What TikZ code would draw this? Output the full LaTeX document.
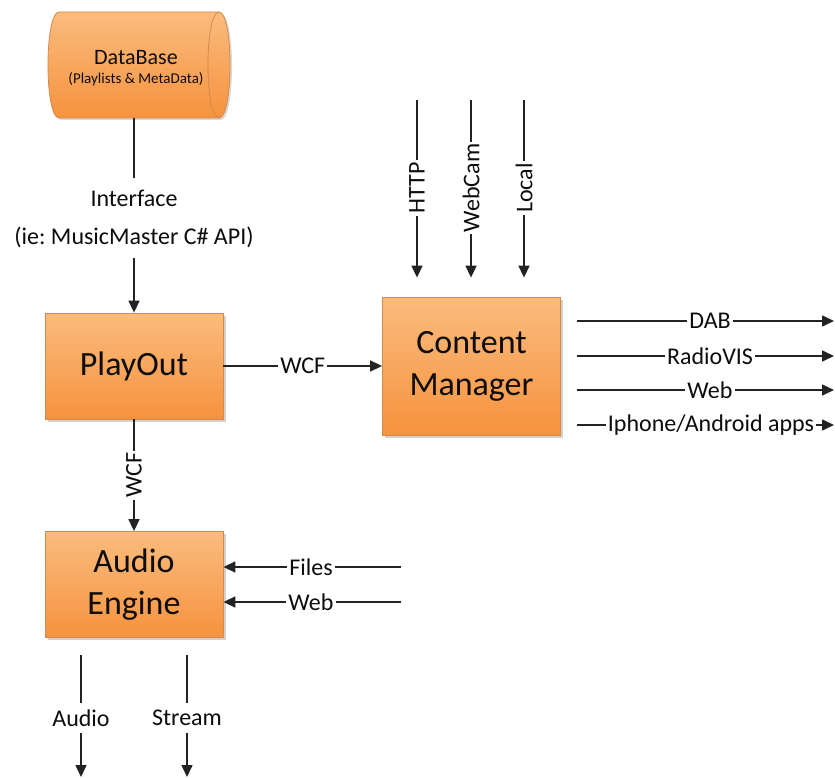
\documentclass[tikz,border=0pt]{standalone}
\usepackage{fontspec}
\setmainfont{Carlito}
\usetikzlibrary{arrows.meta,shadows,calc}
\definecolor{boxtop}{RGB}{250,188,126}
\definecolor{boxbot}{RGB}{246,146,62}
\definecolor{boxline}{RGB}{212,138,76}
\definecolor{ink}{RGB}{35,35,35}
\frenchspacing
\begin{document}
\begin{tikzpicture}[x=1pt,y=-1pt,
  boxfill/.style={draw=boxline, line width=0.8pt, top color=boxtop, bottom color=boxbot},
  box/.style={boxfill,
    drop shadow={shadow xshift=2.5pt,shadow yshift=-2.5pt,opacity=0.3,fill=black!60},
    minimum width=178pt, minimum height=106pt, inner sep=0pt, align=center,
    font=\fontsize{34}{42}\selectfont, text=black!95},
  lbl/.style={fill=white, inner xsep=2pt, inner ysep=1pt, font=\fontsize{24}{28}\selectfont, text=black!95},
  lblv/.style={lbl, inner ysep=7pt},
  ln/.style={draw=ink, line width=1.6pt},
  arr/.style={ln, -{Triangle[length=12pt,width=11pt]}}]
\useasboundingbox (0,0) rectangle (835,778);

% database (horizontal cylinder)
\node[minimum width=173pt, minimum height=106pt, inner sep=0pt] (db) at (134,65) {};
\path[boxfill, drop shadow={shadow xshift=2pt,shadow yshift=-2pt,opacity=0.25,fill=black!60}]
  (59,12) -- (219,12) .. controls (233.7,12) and (233.7,118) .. (219,118)
  -- (59,118) .. controls (44.3,118) and (44.3,12) .. (59,12) -- cycle;
\draw[draw=boxline, line width=0.8pt] (219,12) .. controls (204.3,12) and (204.3,118) .. (219,118);
\node[align=center, text=black!95] (dbt) at (136,68)
  {{\fontsize{22}{26}\selectfont DataBase}\\[7pt]{\fontsize{15}{18}\selectfont (Playlists \& MetaData)}};

% boxes
\node[box] (po) at (134,366) {PlayOut};
\node[box, minimum height=138pt] (cm) at (471.5,366) {Content\\Manager};
\node[box] (ae) at (134,584.5) {Audio\\Engine};

% interface
\coordinate (ifa) at (134,178);
\coordinate (ifb) at (134,258);
\draw[ln] (db.south) -- (ifa);
\draw[arr] (ifb) -- (po.north);
\node[lbl] (if1) at (134,198) {Interface};
\node[lbl] (if2) at (134,237) {(ie: MusicMaster C\# API)};

% WCF links
\draw[arr] (po.east) -- (po.east -| cm.west);
\node[lbl] (wcf1) at ($(po.east)!0.5!(po.east -| cm.west)$) {WCF};
\draw[arr] (po.south) -- (ae.north);
\node[lbl, rotate=90] (wcf2) at ($(po.south)!0.5!(ae.north)$) {WCF};

% inputs to content manager
\coordinate (h0) at (417,100);
\coordinate (w0) at (471,100);
\coordinate (l0) at (524,100);
\draw[arr, shorten >=19pt] (h0) -- (h0 |- cm.north);
\draw[arr, shorten >=19pt] (w0) -- (w0 |- cm.north);
\draw[arr, shorten >=19pt] (l0) -- (l0 |- cm.north);
\node[lbl, rotate=90] (lh) at (417,188) {HTTP};
\node[lbl, rotate=90] (lw) at (471,188) {WebCam};
\node[lbl, rotate=90] (ll) at (524,188) {Local};

% outputs of content manager
\coordinate (o1a) at (577,321); \coordinate (o1b) at (834,321);
\coordinate (o2a) at (577,356); \coordinate (o2b) at (834,356);
\coordinate (o3a) at (577,390); \coordinate (o3b) at (834,390);
\coordinate (o4a) at (577,425); \coordinate (o4b) at (834,425);
\draw[arr] (o1a) -- (o1b);
\draw[arr] (o2a) -- (o2b);
\draw[arr] (o3a) -- (o3b);
\draw[arr] (o4a) -- (o4b);
\node[lbl] (ld) at (710,321) {DAB};
\node[lbl] (lr) at (710,356) {RadioVIS};
\node[lbl] (lwb) at (710,390) {Web};
\node[lbl] (li) at (711,425) {Iphone/Android apps};

% inputs to audio engine
\coordinate (f0) at (401,567);
\coordinate (g0) at (401,602);
\draw[arr] (f0) -- (f0 -| ae.east);
\draw[arr] (g0) -- (g0 -| ae.east);
\node[lbl] (lf) at (311,567) {Files};
\node[lbl] (lg) at (311,602) {Web};

% outputs of audio engine
\coordinate (a0) at (81,655); \coordinate (a1) at (81,777);
\coordinate (s0) at (187,655); \coordinate (s1) at (187,777);
\draw[arr] (a0) -- (a1);
\draw[arr] (s0) -- (s1);
\node[lblv] (la) at (81,718) {Audio};
\node[lblv] (ls) at (187,718) {Stream};
\end{tikzpicture}
\end{document}
